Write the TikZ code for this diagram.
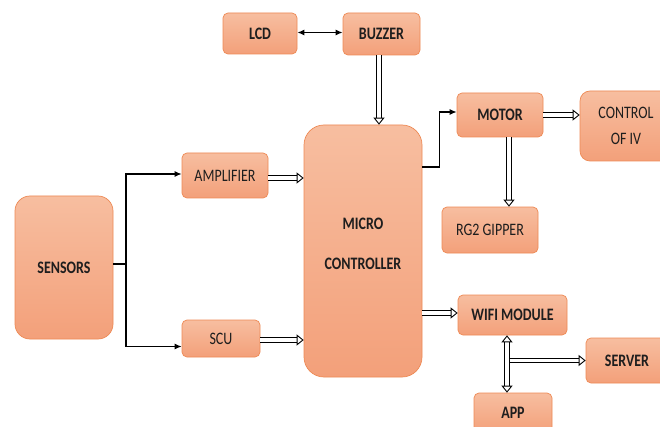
\documentclass[tikz,border=0pt]{standalone}
\usepackage{fontspec}
\usepackage{graphicx}
\setmainfont{Carlito}
\usetikzlibrary{arrows.meta}
\definecolor{boxtop}{HTML}{F7BEA0}
\definecolor{boxbot}{HTML}{F3A07A}
\definecolor{boxline}{HTML}{EE8A55}
\definecolor{txt}{HTML}{1E1E1E}
\newcommand\tx[1]{\scalebox{1}[1.25]{#1}}
\tikzset{
  hd/.tip={Triangle[open, fill=white, length=7pt, width=11pt, line width=0.9pt]},
  blk/.style={rounded corners=5pt, top color=boxtop, bottom color=boxbot,
    draw=boxline, line width=0.7pt, inner sep=0pt, align=center,
    text=txt, font=\fontsize{14}{16}\selectfont},
  bblk/.style={blk, font=\fontsize{14}{16}\selectfont\bfseries},
  lbl/.style={align=center, text=txt, inner sep=0pt, font=\fontsize{14}{16}\selectfont\bfseries},
  dbl/.style={draw, line width=0.9pt, double, double distance=3.4pt, -hd},
  dblboth/.style={dbl, hd-hd},
  sarr/.style={draw=black, line width=1.2pt, -{Latex[length=7pt,width=6pt]}}
}
\begin{document}
\begin{tikzpicture}[x=1pt,y=1pt]
\useasboundingbox (0,0) rectangle (660,426);
\fill[white] (0,0) rectangle (660,426);
\begin{scope}
\clip (0,0) rectangle (660,426);
% nodes (Y = 426 - image y)
\node[bblk, rounded corners=15pt, minimum width=98pt, minimum height=143pt] (sen) at (64,158.5) {\tx{SENSORS}};
\node[blk, minimum width=86pt, minimum height=45pt] (amp) at (225,250.5) {\tx{AMPLIFIER}};
\node[blk, minimum width=78pt, minimum height=37pt] (scu) at (221,87.5) {\tx{SCU}};
\node[bblk, rounded corners=20pt, minimum width=118pt, minimum height=252pt] (mc) at (363,175) {};
\node[lbl] (mctext) at (363,182) {\tx{MICRO}\\[24pt]\tx{CONTROLLER}};
\node[bblk, minimum width=74pt, minimum height=41pt] (lcd) at (260,392.5) {\tx{LCD}};
\node[bblk, minimum width=77pt, minimum height=42pt] (buz) at (381.5,392) {\tx{BUZZER}};
\node[bblk, minimum width=86pt, minimum height=44pt] (mot) at (500,311) {\tx{MOTOR}};
\node[blk, rounded corners=10pt, minimum width=92pt, minimum height=70pt] (ctl) at (626,300) {\tx{CONTROL}\\[10pt]\tx{OF IV}};
\node[blk, minimum width=96pt, minimum height=46pt] (rg) at (490,196) {\tx{RG2 GIPPER}};
\node[bblk, minimum width=109pt, minimum height=40pt] (wifi) at (512.5,111) {\tx{WIFI MODULE}};
\node[bblk, minimum width=82pt, minimum height=45pt] (srv) at (627,65.5) {\tx{SERVER}};
\node[bblk, minimum width=78pt, minimum height=40pt] (app) at (513,13) {\tx{APP}};
\end{scope}
% sensor branches
\coordinate (j) at (126,162);
\draw[line width=1.2pt] ([yshift=3.5pt]sen.east) -- (j);
\draw[sarr] (j) |- ([yshift=1.5pt]amp.west);
\draw[sarr] (j) |- ([yshift=-8pt]scu.west);
% to micro controller
\draw[dbl] ([yshift=-2.5pt]amp.east) -- ([yshift=-2.5pt]amp.east -| mc.west);
\draw[dbl] ([yshift=-1.5pt]scu.east) -- ([yshift=-1.5pt]scu.east -| mc.west);
\draw[line width=1.3pt, {Latex[length=7pt,width=6pt]}-{Latex[length=7pt,width=6pt]}] ([yshift=1pt]lcd.east) -- ([yshift=1pt]lcd.east -| buz.west);
\draw[dbl] ([xshift=-2.5pt]buz.south) -- ([xshift=-2.5pt]buz.south |- mc.north);
% to motor
\coordinate (m1) at (mc.east |- 0,259);
\draw[sarr] (m1) -- ++(17,0) |- ([yshift=3pt]mot.west);
\draw[dbl] (mot.east) -- (mot.east -| ctl.west);
\draw[dbl] ([xshift=9pt]mot.south) -- ([xshift=9pt]mot.south |- rg.north);
% wifi
\draw[dbl] ([yshift=2pt]wifi.west -| mc.east) -- ([yshift=2pt]wifi.west);
\coordinate (st) at ([xshift=-5.5pt]wifi.south);
\draw[dblboth] (st) -- (st |- app.north);
\draw[dbl] ([xshift=2.6pt]st |- srv.west) -- (srv.west);
\end{tikzpicture}
\end{document}
